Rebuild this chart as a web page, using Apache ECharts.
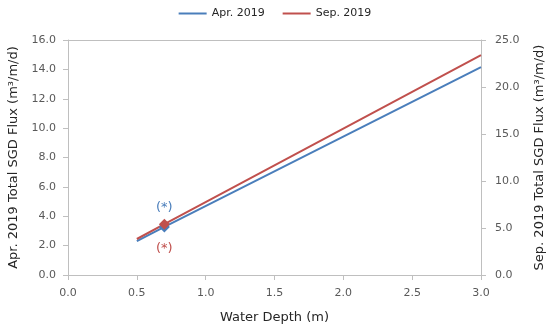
<!DOCTYPE html>
<html><head><meta charset="utf-8">
<script src="https://cdn.jsdelivr.net/npm/echarts@6/dist/echarts.min.js"></script>
<style>html,body{margin:0;padding:0;background:#fff}#c{width:550px;height:332px}</style>
</head><body><div id="c"></div>
<script>
const depth = [0.5, 0.7, 3.0];
const aprFlux = [2.31, 3.27, 14.16];
const sepFlux = [3.83, 5.40, 23.4];
const markedDepth = 0.7;
const xTicks = [0, 3, 0.5];
const leftTicks = [0, 16, 2];
const rightTicks = [0, 25, 5];

const font = 'DejaVu Sans';
const gray = '#595959';
const axisCol = '#bfbfbf';
const blue = '#4a7ebb';
const red = '#c0504d';

function mk(vals, color, pos, dist) {
  return depth.map((d, i) => {
    const item = { value: [d, vals[i]] };
    if (d === markedDepth) {
      item.symbol = 'diamond';
      item.symbolSize = 11;
      item.label = { show: true, position: pos, distance: dist, formatter: '(*)', color: color, fontFamily: font, fontSize: 13 };
    } else {
      item.symbol = 'none';
    }
    return item;
  });
}

const chart = echarts.init(document.getElementById('c'));
chart.setOption({
  animation: false,
  textStyle: { fontFamily: font },
  legend: {
    top: 3, left: 'center', itemWidth: 28, itemHeight: 2, itemGap: 18,
    textStyle: { fontFamily: font, fontSize: 11, color: '#262626' },
    data: [{ name: 'Apr. 2019', icon: 'rect' }, { name: 'Sep. 2019', icon: 'rect' }]
  },
  grid: { left: 68, right: 69, top: 40, bottom: 57, outerBoundsMode: 'none', containLabel: false },
  xAxis: [{
    type: 'value', min: xTicks[0], max: xTicks[1], interval: xTicks[2],
    name: 'Water Depth (m)', nameLocation: 'middle', nameGap: 36,
    nameTextStyle: { fontFamily: font, fontSize: 13, color: '#262626' },
    axisLine: { show: true, onZero: false, lineStyle: { color: axisCol } },
    axisTick: { show: true, length: 5, lineStyle: { color: axisCol } },
    axisLabel: { color: gray, fontSize: 11, fontFamily: font, margin: 13, formatter: v => v.toFixed(1) },
    splitLine: { show: false }
  }, {
    type: 'value', position: 'top', min: xTicks[0], max: xTicks[1],
    axisLine: { show: true, onZero: false, lineStyle: { color: axisCol } },
    axisTick: { show: false }, axisLabel: { show: false }, splitLine: { show: false }
  }],
  yAxis: [{
    type: 'value', min: leftTicks[0], max: leftTicks[1], interval: leftTicks[2],
    name: 'Apr. 2019 Total SGD Flux (m³/m/d)', nameLocation: 'middle', nameGap: 48,
    nameTextStyle: { fontFamily: font, fontSize: 13, color: '#262626' },
    axisLine: { show: true, onZero: false, lineStyle: { color: axisCol } },
    axisTick: { show: true, length: 5, lineStyle: { color: axisCol } },
    axisLabel: { color: gray, fontSize: 11, fontFamily: font, margin: 12, formatter: v => v.toFixed(1) },
    splitLine: { show: false }
  }, {
    type: 'value', position: 'right', min: rightTicks[0], max: rightTicks[1], interval: rightTicks[2],
    name: 'Sep. 2019 Total SGD Flux (m³/m/d)', nameLocation: 'middle', nameGap: 52, nameRotate: 90,
    nameTextStyle: { fontFamily: font, fontSize: 13, color: '#262626' },
    axisLine: { show: true, onZero: false, lineStyle: { color: axisCol } },
    axisTick: { show: true, length: 5, lineStyle: { color: axisCol } },
    axisLabel: { color: gray, fontSize: 11, fontFamily: font, margin: 14, formatter: v => v.toFixed(1) },
    splitLine: { show: false }
  }],
  series: [{
    name: 'Apr. 2019', type: 'line', yAxisIndex: 0,
    data: mk(aprFlux, blue, 'top', 7),
    lineStyle: { color: blue, width: 2 }, itemStyle: { color: blue }, color: blue
  }, {
    name: 'Sep. 2019', type: 'line', yAxisIndex: 1,
    data: mk(sepFlux, red, 'bottom', 12),
    lineStyle: { color: red, width: 2 }, itemStyle: { color: red }, color: red
  }]
});
</script></body></html>
